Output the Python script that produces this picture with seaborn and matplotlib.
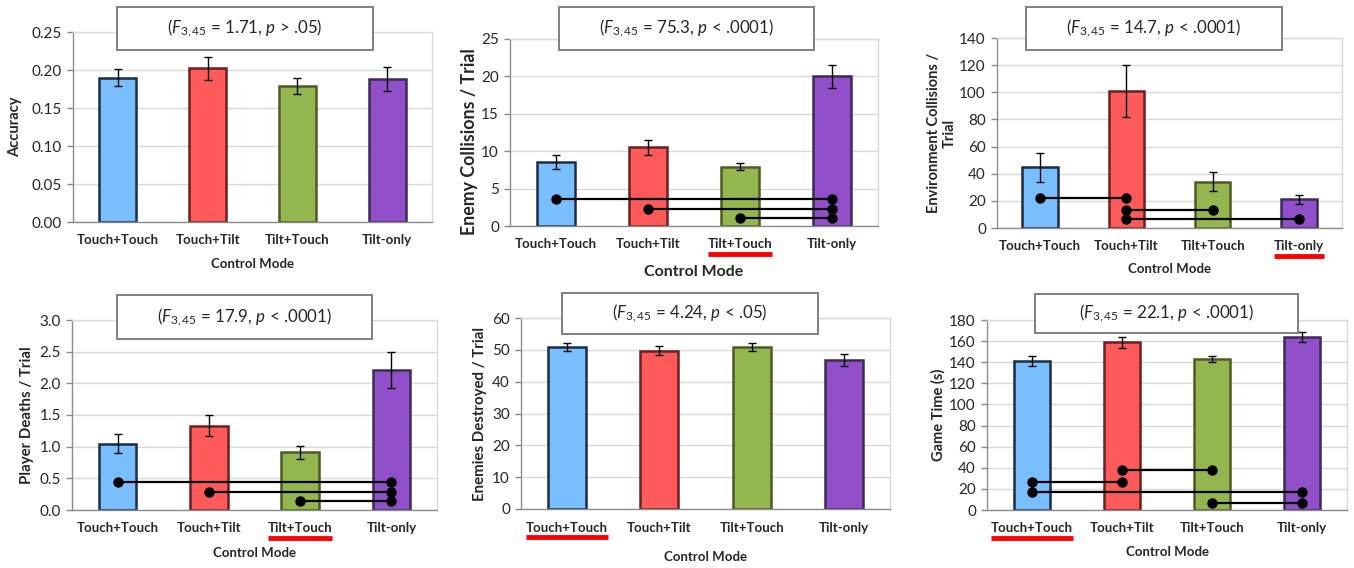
import matplotlib
matplotlib.use("Agg")
import matplotlib.pyplot as plt
import matplotlib.patches as mpatches
from matplotlib.lines import Line2D
import numpy as np
import pandas as pd
import seaborn as sns

# ---------------- data ----------------
modes = ["Touch+Touch", "Touch+Tilt", "Tilt+Touch", "Tilt-only"]

acc_mean = [0.190, 0.202, 0.179, 0.188]
acc_err = [0.011, 0.015, 0.011, 0.016]

enemy_mean = [8.6, 10.5, 7.95, 20.0]
enemy_err = [0.95, 0.95, 0.47, 1.5]

env_mean = [44.8, 100.8, 34.2, 21.2]
env_err = [10.7, 19.2, 7.2, 3.4]

deaths_mean = [1.05, 1.33, 0.91, 2.21]
deaths_err = [0.15, 0.165, 0.097, 0.28]

destroyed_mean = [50.9, 49.7, 50.8, 46.8]
destroyed_err = [1.2, 1.35, 1.25, 2.0]

time_mean = [141.5, 158.8, 143.0, 163.8]
time_err = [4.7, 5.2, 3.2, 4.7]

# significance pairs: (from index, to index, y level)
enemy_sig = [(0, 3, 3.56), (1, 3, 2.23), (2, 3, 1.02)]
env_sig = [(0, 1, 22.0), (1, 2, 13.5), (1, 3, 6.9)]
deaths_sig = [(0, 3, 0.44), (1, 3, 0.29), (2, 3, 0.14)]
destroyed_sig = []
time_sig = [(1, 2, 37.9), (0, 1, 26.5), (0, 3, 17.1), (2, 3, 6.9)]

titles = [
    r"($F_{3,45}$ = 1.71, $p$ > .05)",
    r"($F_{3,45}$ = 75.3, $p$ < .0001)",
    r"($F_{3,45}$ = 14.7, $p$ < .0001)",
    r"($F_{3,45}$ = 17.9, $p$ < .0001)",
    r"($F_{3,45}$ = 4.24, $p$ < .05)",
    r"($F_{3,45}$ = 22.1, $p$ < .0001)",
]
ylabels = ["Accuracy", "Enemy Collisions / Trial", "Environment Collisions /\nTrial",
           "Player Deaths / Trial", "Enemies Destroyed / Trial", "Game Time (s)"]
yticks = [np.arange(0, 0.2501, 0.05), np.arange(0, 26, 5), np.arange(0, 141, 20),
          np.arange(0, 3.01, 0.5), np.arange(0, 61, 10), np.arange(0, 181, 20)]
yfmt = ["{:.2f}", "{:.0f}", "{:.0f}", "{:.1f}", "{:.0f}", "{:.0f}"]
underlined = [None, 2, 3, 2, 0, 0]

fill_colors = ["#79BFFF", "#FF5A5A", "#93B64E", "#9150C9"]
edge_colors = ["#1B2C45", "#6A2020", "#4A5C24", "#3D2A58"]

# ---------------- style ----------------
sns.set_theme(style="white")
plt.rcParams["font.family"] = ["Lato", "DejaVu Sans"]
plt.rcParams["mathtext.fontset"] = "custom"
plt.rcParams["mathtext.rm"] = "Lato"
plt.rcParams["mathtext.it"] = "Lato:italic"
plt.rcParams["mathtext.bf"] = "Lato:bold"

W, H = 1354, 568
fig = plt.figure(figsize=(W / 100, H / 100), dpi=100)
fig.patch.set_facecolor("white")

# axes rectangles in pixel coords (x0, x1, ytop, ybottom)
rects = [(73, 432, 32, 222), (510, 878, 39, 226), (997, 1342, 38, 228),
         (72, 437, 320, 510), (521, 890, 318, 509), (987, 1347, 320, 510)]
boxes = [(117, 373, 7, 50), (559, 814, 7, 50), (1026, 1282, 7, 50),
         (117, 372, 295, 339), (562, 818, 293, 334), (1035, 1298, 294, 333)]
ylab_x = [-0.16, -0.11, -0.16, -0.123, -0.111, -0.136]
ylab_y = [0.5, 0.45, 0.5, 0.5, 0.5, 0.5]
xlab_y = [-0.22, -0.246, -0.216, -0.226, -0.251, -0.221]
ylab_size = [10.5, 12.8, 10.5, 10.8, 10.8, 10.5]
xlab_size = [9.5, 11.5, 9.5, 9.5, 9.5, 9.5]

means = [acc_mean, enemy_mean, env_mean, deaths_mean, destroyed_mean, time_mean]
errs = [acc_err, enemy_err, env_err, deaths_err, destroyed_err, time_err]
sigs = [[], enemy_sig, env_sig, deaths_sig, destroyed_sig, time_sig]

axes = []
for k in range(6):
    x0, x1, yt, yb = rects[k]
    ax = fig.add_axes([x0 / W, (H - yb) / H, (x1 - x0) / W, (yb - yt) / H])
    axes.append(ax)
    df = pd.DataFrame({"mode": modes, "value": means[k]})
    sns.barplot(data=df, x="mode", y="value", hue="mode", order=modes, hue_order=modes,
                palette=fill_colors, legend=False, errorbar=None, width=0.41,
                linewidth=1.8, saturation=1, ax=ax, zorder=2)
    for c, cont in enumerate(ax.containers):
        for bar in cont:
            bar.set_edgecolor(edge_colors[c])
    ax.errorbar(np.arange(4), means[k], yerr=errs[k], fmt="none", ecolor="black",
                elinewidth=1.0, capsize=2.6, capthick=1.0, zorder=3)
    for (i, j, yv) in sigs[k]:
        ax.plot([i, j], [yv, yv], color="black", lw=1.6, zorder=4,
                marker="o", markersize=6.5, markerfacecolor="black", markeredgecolor="black")
    ax.set_xlim(-0.5, 3.5)
    ax.set_ylim(yticks[k][0], yticks[k][-1])
    ax.set_yticks(yticks[k])
    ax.set_yticklabels([yfmt[k].format(v) for v in yticks[k]], fontsize=11)
    ax.set_xticks(range(4))
    ax.set_xticklabels(modes, fontsize=9.5, fontweight="bold")
    ax.set_xticks(np.arange(-0.5, 4, 1), minor=True)
    ax.tick_params(axis="x", which="major", length=0, pad=9)
    ax.tick_params(axis="x", which="minor", length=4, width=1, color="#888888", direction="out")
    ax.tick_params(axis="y", which="major", length=4, width=1, color="#888888",
                   direction="out", left=True, pad=4)
    ax.yaxis.grid(True, color="#d9d9d9", lw=1)
    ax.set_axisbelow(True)
    for s in ["top", "right"]:
        ax.spines[s].set_color("#d9d9d9")
        ax.spines[s].set_linewidth(1)
    for s in ["left", "bottom"]:
        ax.spines[s].set_color("#8c8c8c")
        ax.spines[s].set_linewidth(1)
    ax.set_ylabel(ylabels[k], fontsize=ylab_size[k], fontweight="bold", linespacing=1.1)
    ax.yaxis.set_label_coords(ylab_x[k], ylab_y[k])
    ax.yaxis.label.set_va("center")
    ax.set_xlabel("Control Mode", fontsize=xlab_size[k], fontweight="bold")
    ax.xaxis.set_label_coords(0.5, xlab_y[k])
    ax.xaxis.label.set_va("center")

    bx0, bx1, byt, byb = boxes[k]
    rect = mpatches.Rectangle((bx0 / W, (H - byb) / H), (bx1 - bx0) / W, (byb - byt) / H,
                              transform=fig.transFigure, facecolor="white",
                              edgecolor="#7f7f7f", linewidth=1.4, zorder=10)
    fig.add_artist(rect)
    fig.text((bx0 + bx1) / 2 / W, (H - (byt + byb) / 2) / H, titles[k], fontsize=12.2,
             ha="center", va="center", zorder=11)

fig.canvas.draw()
renderer = fig.canvas.get_renderer()
for k, ax in enumerate(axes):
    idx = underlined[k]
    if idx is None:
        continue
    lab = ax.get_xticklabels()[idx]
    bb = lab.get_window_extent(renderer)
    yline = bb.y0 - 3
    fig.add_artist(Line2D([bb.x0 / W, bb.x1 / W], [yline / H, yline / H],
                          transform=fig.transFigure, color="#FF0000", lw=3.5,
                          solid_capstyle="butt", zorder=12))

fig.savefig("out.png", dpi=100, facecolor="white")
